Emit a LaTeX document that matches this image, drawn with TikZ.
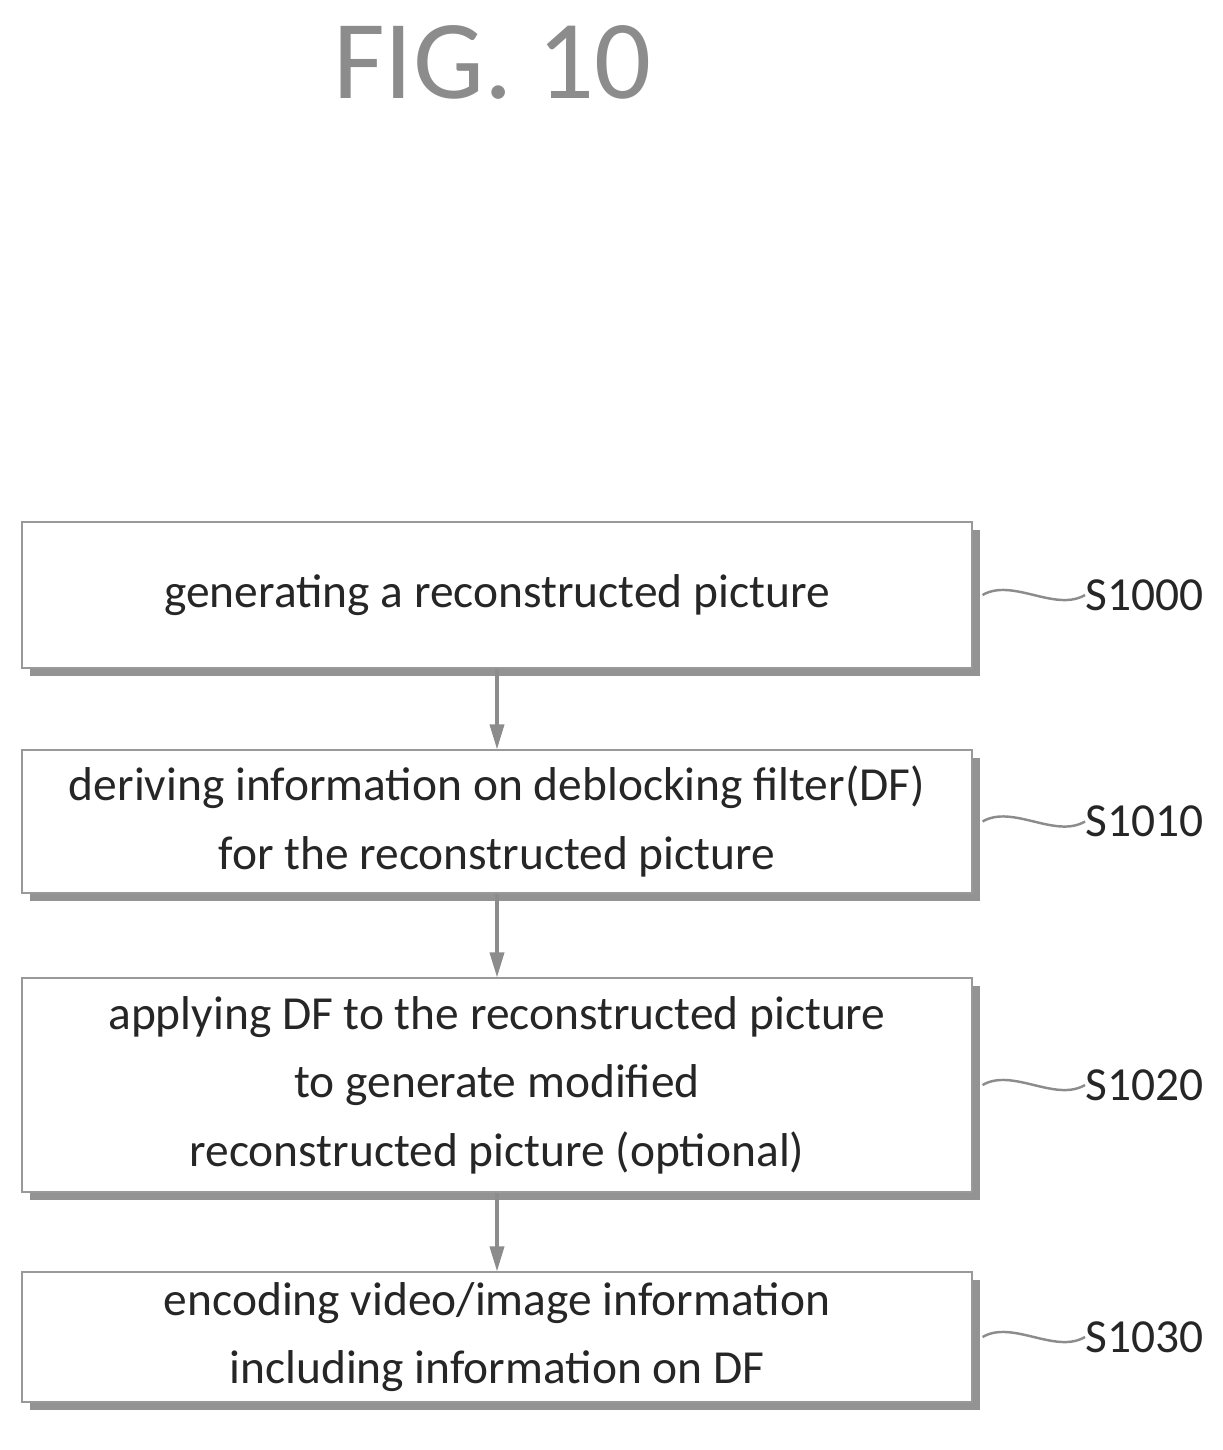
\documentclass[tikz,border=0pt]{standalone}
\usepackage{fontspec}
\setmainfont{Carlito}
\usetikzlibrary{shadows,arrows.meta}
\tikzset{
  stepbox/.style={draw=gray!80, line width=0.6pt, fill=white, minimum width=19cm,
    align=center, font=\fontsize{27}{39}\selectfont, text=black!85,
    drop shadow={shadow xshift=0.16cm, shadow yshift=-0.16cm, fill=gray!85, opacity=1}},
  lbl/.style={font=\fontsize{27}{30}\selectfont, text=black!85, anchor=west, inner sep=0pt},
  tilde/.style={draw=gray!90, line width=1.4pt},
  flow/.style={draw=gray!90, line width=2pt, -{Triangle[length=0.5cm,width=0.28cm]}}
}
\begin{document}
\begin{tikzpicture}
  \useasboundingbox (0,0) rectangle (24.44,-29);
  \node[text=gray!90](title) at (9.85,-1.25) {\fontsize{64}{70}\selectfont FIG. 10};

  \node[stepbox, minimum height=2.92cm](s1000) at (9.94,-11.9) {generating a reconstructed picture};
  \node[stepbox, minimum height=2.86cm](s1010) at (9.94,-16.43) {deriving information on deblocking filter(DF)\\for the reconstructed picture};
  \node[stepbox, minimum height=4.28cm](s1020) at (9.94,-21.7) {applying DF to the reconstructed picture\\to generate modified\\reconstructed picture (optional)};
  \node[stepbox, minimum height=2.6cm](s1030) at (9.94,-26.74) {encoding video/image information\\including information on DF};

  \draw[flow] (s1000) -- (s1010);
  \draw[flow] (s1010) -- (s1020);
  \draw[flow] (s1020) -- (s1030);

  % step labels with wavy leaders
  \foreach \n in {1000,1010,1020,1030} {
    \node[lbl](ls\n) at ([xshift=2.25cm]s\n.east) {S\n};
    \draw[tilde] ([xshift=0.2cm]s\n.east) .. controls +(0.6,0.35) and +(-0.6,-0.35) .. (ls\n.west);
  }
\end{tikzpicture}
\end{document}
